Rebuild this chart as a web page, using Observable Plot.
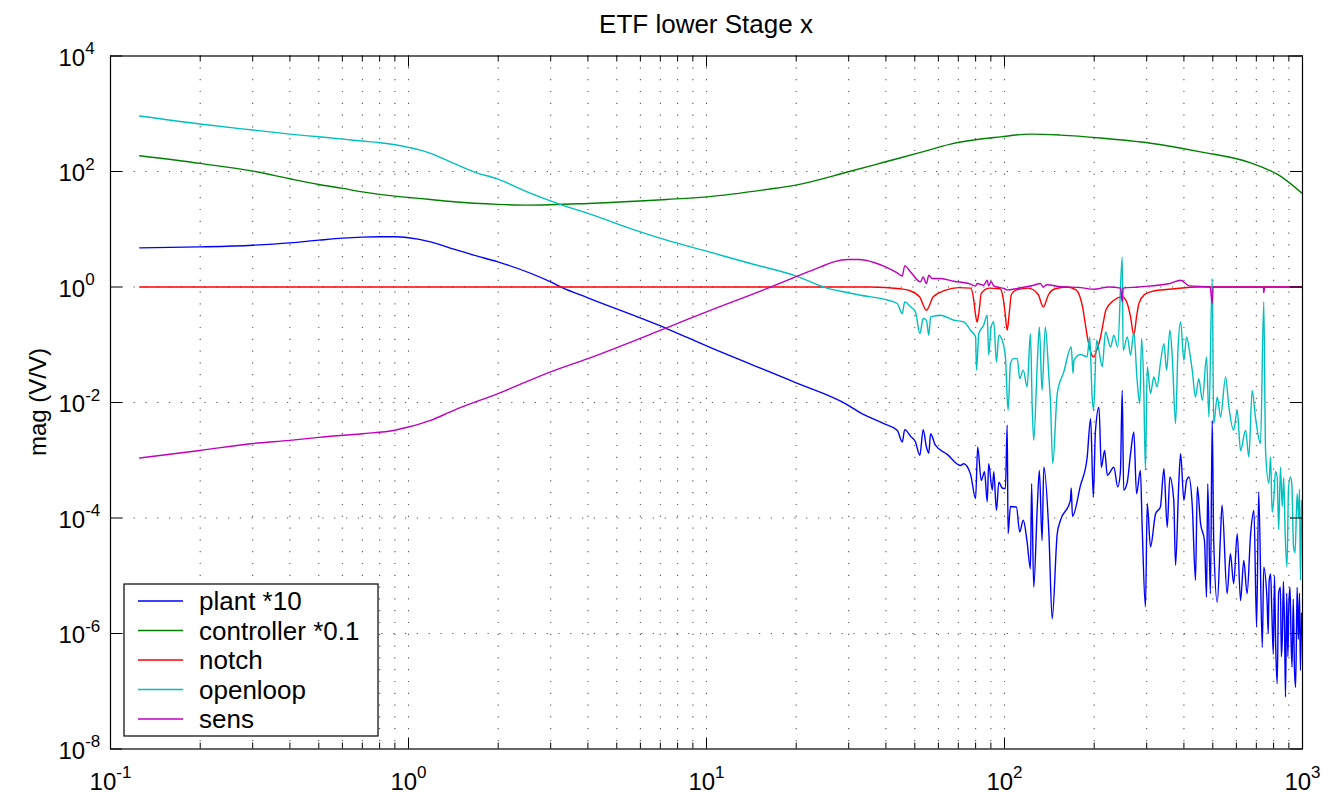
<!DOCTYPE html>
<html><head><meta charset="utf-8">
<script src="https://cdn.jsdelivr.net/npm/d3@7"></script>
<script src="https://cdn.jsdelivr.net/npm/@observablehq/plot@0.6"></script>
<style>body{margin:0;background:#fff} svg{display:block}</style>
</head><body><div id="chart"></div>
<script>
// ---------- texts ----------
const title = "ETF lower Stage x";
const yLabel = "mag (V/V)";
const seriesNames = ["plant *10", "controller *0.1", "notch", "openloop", "sens"];
const seriesColors = ["#0000ff", "#008000", "#ff0000", "#00bfbf", "#bf00bf"];
// tick exponents (labels are 10^e)
const xTickExp = [-1, 0, 1, 2, 3];
const yTickExp = [-8, -6, -4, -2, 0, 2, 4];
const minorMult = [2, 3, 4, 5, 6, 7, 8, 9];

// ---------- data: log10(frequency Hz), log10(magnitude V/V) ----------
const plantF = [-0.902,-0.700,-0.522,-0.398,-0.301,-0.220,-0.155,-0.098,-0.046,0.0,0.074,0.152,0.219,0.300,0.477,0.516,0.602,0.866,1.0,1.299,1.476,1.517,1.595,1.640,1.657,1.665,1.685,1.701,1.716,1.727,1.738,1.746,1.752,1.768,1.808,1.852,1.863,1.886,1.903,1.910,1.922,1.933,1.942,1.947,1.959,1.964,1.973,1.981,1.992,2.003,2.009,2.012,2.020,2.040,2.051,2.063,2.076,2.087,2.091,2.098,2.110,2.117,2.126,2.132,2.149,2.160,2.177,2.188,2.221,2.224,2.228,2.255,2.277,2.289,2.298,2.305,2.317,2.325,2.336,2.345,2.367,2.380,2.389,2.395,2.400,2.412,2.423,2.434,2.443,2.456,2.462,2.473,2.479,2.490,2.507,2.523,2.535,2.546,2.555,2.568,2.574,2.585,2.591,2.602,2.611,2.619,2.630,2.641,2.647,2.658,2.671,2.678,2.682,2.691,2.697,2.702,2.714,2.725,2.730,2.747,2.758,2.769,2.781,2.792,2.803,2.814,2.826,2.837,2.846,2.853,2.865,2.870,2.881,2.885,2.888,2.893,2.897,2.902,2.906,2.910,2.915,2.920,2.926,2.929,2.932,2.936,2.940,2.943,2.947,2.951,2.954,2.958,2.962,2.965,2.969,2.973,2.977,2.982,2.986,2.990,2.993,2.997];
const plantM = [0.678,0.695,0.724,0.764,0.811,0.846,0.863,0.869,0.869,0.852,0.782,0.655,0.551,0.435,0.088,-0.01,-0.188,-0.719,-1.02,-1.655,-2.048,-2.18,-2.366,-2.48,-2.684,-2.47,-2.586,-2.68,-2.915,-2.47,-2.77,-2.875,-2.54,-2.74,-2.898,-3.09,-3.06,-3.24,-3.665,-2.77,-3.35,-3.2,-3.72,-3.06,-3.52,-3.2,-3.87,-3.38,-3.48,-3.49,-2.39,-4.27,-3.8,-3.81,-4.24,-4.04,-4.42,-4.88,-3.405,-5.2,-3.81,-3.175,-4.39,-3.117,-4.27,-5.745,-4.27,-4.04,-3.7,-3.48,-3.97,-3.435,-2.97,-2.28,-3.64,-2.51,-2.08,-3.12,-2.83,-3.26,-3.12,-3.46,-3.2,-1.79,-3.52,-3.38,-2.885,-2.51,-3.58,-3.175,-4.16,-5.54,-3.75,-4.5,-3.925,-3.81,-3.145,-4.16,-3.29,-3.695,-4.82,-3.38,-2.885,-3.695,-3.35,-3.29,-3.78,-5.08,-3.46,-4.1,-4.39,-5.37,-3.405,-5.31,-2.31,-4.39,-5.46,-4.27,-3.78,-5.31,-4.62,-5.14,-4.27,-5.43,-4.735,-5.31,-4.27,-3.87,-5.89,-3.55,-6.24,-4.85,-5.43,-6.0,-5.1,-4.97,-5.6,-6.36,-5.0,-6.2,-6.87,-5.3,-5.2,-6.4,-6.12,-5.1,-6.0,-7.1,-5.3,-6.4,-5.54,-5.2,-6.2,-6.58,-5.4,-6.6,-6.93,-5.2,-6.1,-5.3,-6.64,-5.65];

const controllerF = [-0.902,-0.700,-0.522,-0.398,-0.301,-0.220,-0.155,-0.046,0.0,0.074,0.152,0.300,0.398,0.602,0.866,1.0,1.204,1.299,1.476,1.601,1.718,1.819,1.987,2.087,2.188,2.322,2.490,2.658,2.826,2.926,2.997];
const controllerM = [2.272,2.14,2.007,1.874,1.776,1.707,1.648,1.574,1.551,1.516,1.475,1.43,1.418,1.447,1.516,1.561,1.69,1.764,1.995,2.168,2.33,2.475,2.6,2.648,2.63,2.58,2.49,2.34,2.15,1.92,1.63];

const notchF = [-0.902,1.55,1.65,1.68,1.715,1.738,1.761,1.800,1.846,1.886,1.897,1.902,1.908,1.914,1.922,1.95,1.985,1.995,2.002,2.009,2.016,2.023,2.04,2.08,2.113,2.13,2.148,2.17,2.21,2.24,2.255,2.262,2.27,2.28,2.291,2.299,2.309,2.32,2.332,2.34,2.367,2.395,2.412,2.423,2.434,2.443,2.451,2.468,2.50,2.57,2.65,3.0];
const notchM = [0,0,-0.03,-0.06,-0.17,-0.402,-0.17,-0.06,-0.01,-0.02,-0.23,-0.45,-0.605,-0.45,-0.11,-0.02,-0.03,-0.18,-0.45,-0.75,-0.45,-0.13,-0.05,-0.02,-0.13,-0.344,-0.13,-0.03,0,-0.05,-0.2,-0.344,-0.6,-0.92,-1.15,-1.21,-1.1,-0.92,-0.605,-0.402,-0.23,-0.17,-0.286,-0.518,-0.835,-0.518,-0.286,-0.14,-0.07,-0.03,0,0];

const openloopF = [-0.902,-0.700,-0.522,-0.398,-0.301,-0.220,-0.155,-0.098,-0.046,0.0,0.037,0.074,0.152,0.219,0.300,0.398,0.516,0.602,0.778,0.866,1.0,1.148,1.299,1.399,1.476,1.517,1.595,1.640,1.657,1.665,1.685,1.701,1.716,1.727,1.738,1.746,1.752,1.785,1.830,1.863,1.886,1.903,1.906,1.914,1.930,1.942,1.947,1.955,1.964,1.973,1.981,1.992,2.003,2.012,2.020,2.031,2.043,2.051,2.063,2.076,2.087,2.093,2.098,2.110,2.117,2.126,2.137,2.149,2.154,2.162,2.177,2.199,2.224,2.230,2.233,2.255,2.277,2.286,2.294,2.299,2.309,2.317,2.328,2.339,2.356,2.367,2.380,2.395,2.398,2.412,2.423,2.434,2.445,2.454,2.460,2.467,2.473,2.479,2.490,2.501,2.512,2.523,2.535,2.544,2.555,2.563,2.574,2.582,2.591,2.602,2.611,2.622,2.630,2.641,2.652,2.664,2.678,2.686,2.697,2.702,2.714,2.725,2.742,2.753,2.769,2.781,2.792,2.809,2.820,2.831,2.842,2.859,2.870,2.876,2.887,2.893,2.898,2.904,2.909,2.915,2.920,2.926,2.932,2.937,2.942,2.948,2.953,2.959,2.964,2.970,2.975,2.982,2.987,2.990,2.993,2.997];
const openloopM = [2.96,2.822,2.718,2.648,2.601,2.561,2.527,2.498,2.463,2.418,2.375,2.314,2.14,1.995,1.868,1.648,1.418,1.274,0.955,0.811,0.62,0.407,0.193,-0.01,-0.1,-0.142,-0.21,-0.286,-0.46,-0.258,-0.344,-0.43,-0.806,-0.546,-0.575,-0.835,-0.518,-0.489,-0.575,-0.605,-0.749,-0.864,-1.44,-0.806,-0.662,-0.489,-1.18,-0.69,-0.605,-1.3,-0.835,-0.92,-1.21,-2.135,-1.326,-1.24,-1.24,-1.586,-1.44,-1.73,-0.806,-2.08,-2.655,-1.326,-0.69,-1.79,-0.69,-1.557,-1.96,-3.06,-1.846,-1.47,-1.04,-1.5,-1.27,-1.17,-1.21,-0.864,-1.904,-2.135,-0.92,-1.1,-1.38,-0.778,-1.04,-0.835,-1.04,0.52,-1.1,-0.864,-1.18,-0.778,-1.615,-2.02,-0.893,-1.67,-3.175,-1.38,-1.846,-1.557,-1.73,-1.326,-0.98,-1.44,-0.749,-1.21,-2.366,-1.1,-0.605,-1.27,-0.864,-1.153,-1.44,-1.904,-1.586,-1.96,-1.21,-2.25,0.147,-2.366,-1.904,-2.25,-1.557,-2.08,-2.48,-2.135,-2.83,-2.48,-2.945,-1.79,-2.25,-2.71,-0.258,-2.83,-3.4,-2.945,-3.9,-3.64,-3.2,-3.29,-4.2,-3.12,-3.8,-3.3,-4.3,-4.85,-3.5,-3.29,-3.4,-4.5,-4.6,-3.58,-4.0,-3.5,-5.08,-3.7];

const sensF = [-0.902,-0.700,-0.522,-0.398,-0.301,-0.155,-0.046,0.0,0.074,0.152,0.300,0.477,0.602,0.866,1.0,1.204,1.299,1.383,1.427,1.476,1.512,1.562,1.601,1.640,1.657,1.665,1.685,1.718,1.727,1.738,1.746,1.757,1.785,1.830,1.886,1.903,1.908,1.93,1.942,1.947,1.955,1.964,1.976,1.998,2.009,2.043,2.098,2.12,2.13,2.143,2.188,2.255,2.30,2.35,2.39,2.395,2.398,2.45,2.555,2.591,2.62,2.69,2.697,2.70,2.869,2.870,2.873,3.0];
const sensM = [-2.962,-2.83,-2.71,-2.655,-2.603,-2.54,-2.48,-2.425,-2.31,-2.135,-1.846,-1.47,-1.24,-0.707,-0.43,-0.025,0.175,0.35,0.435,0.475,0.475,0.425,0.35,0.245,0.19,0.365,0.26,0.088,0.175,0.06,0.204,0.147,0.147,0.1,0.05,0.015,0.06,0.03,0.118,0.02,0.09,0.02,0.0,-0.025,-0.05,-0.025,0.03,0.06,0.0,0.04,0.005,-0.01,-0.04,0.0,-0.02,-0.26,-0.02,0.0,0.06,0.118,0.02,0.0,-0.286,0.0,0.0,-0.1,0.0,0.0];

const seriesF = [plantF, controllerF, notchF, openloopF, sensF];
const seriesM = [plantM, controllerM, notchM, openloopM, sensM];

// ---------- layout ----------
const W = 1341, H = 800, mL = 110, mR = 39, mT = 55.5, mB = 51.5;
const frameW = W - mL - mR, frameH = H - mT - mB;
const font = "'Liberation Sans', Arial, Helvetica, sans-serif";

const rows = [];
seriesNames.forEach((name, k) => seriesF[k].forEach((lf, i) => rows.push({series: name, f: 10 ** lf, m: 10 ** seriesM[k][i]})));

const xMajor = xTickExp.map(e => 10 ** e);
const xMinor = xTickExp.slice(0, -1).flatMap(e => minorMult.map(m => m * 10 ** e));
const xGrid = [...xMajor.slice(1, -1), ...xMinor];
const yMajor = yTickExp.map(e => 10 ** e);
const yGrid = yMajor.slice(1, -1);

const gridStyle = {stroke: "#555", strokeWidth: 1.1, strokeDasharray: "1.2,10.6"};

const lineMarks = seriesNames.map(name =>
  Plot.line(rows.filter(r => r.series === name), {x: "f", y: "m", stroke: "series", strokeWidth: 1.4, curve: "monotone-x", clip: true})
);

const plot = Plot.plot({
  width: W, height: H,
  marginLeft: mL, marginRight: mR, marginTop: mT, marginBottom: mB,
  style: {fontFamily: font, background: "white", color: "black"},
  x: {type: "log", domain: [0.1, 1000], axis: null},
  y: {type: "log", domain: [1e-8, 1e4], axis: null},
  color: {domain: seriesNames, range: seriesColors},
  marks: [
    Plot.ruleX(xGrid, {x: d => d, ...gridStyle}),
    Plot.ruleY(yGrid, {y: d => d, ...gridStyle}),
    ...lineMarks,
    Plot.frame({stroke: "black", strokeWidth: 1.2}),
    Plot.tickX(xMajor, {x: d => d, insetTop: frameH - 11, stroke: "black"}),
    Plot.tickX(xMajor, {x: d => d, insetBottom: frameH - 11, stroke: "black"}),
    Plot.tickX(xMinor, {x: d => d, insetTop: frameH - 6, stroke: "black"}),
    Plot.tickX(xMinor, {x: d => d, insetBottom: frameH - 6, stroke: "black"}),
    Plot.tickY(yMajor, {y: d => d, insetRight: frameW - 12, stroke: "black"}),
    Plot.tickY(yMajor, {y: d => d, insetLeft: frameW - 12, stroke: "black"}),
    Plot.text(xTickExp, {x: e => 10 ** e, text: e => "10^" + e, frameAnchor: "bottom", lineAnchor: "bottom", textAnchor: "middle", dy: 41, fontSize: 24, fill: "black"}),
    Plot.text(yTickExp, {y: e => 10 ** e, text: e => "10^" + e, frameAnchor: "left", lineAnchor: "bottom", textAnchor: "start", dx: -52, dy: 9.6, fontSize: 24, fill: "black"})
  ]
});

document.getElementById("chart").appendChild(plot);
const svg = d3.select(plot);

// superscript exponents on tick labels
svg.selectAll("text").each(function () {
  const m = /^10\^(.+)$/.exec(this.textContent);
  if (m) {
    const el = d3.select(this);
    el.text("10");
    el.append("tspan").attr("font-size", 17).attr("dy", -11.6).text(m[1]);
  }
});

// title
svg.append("text")
  .attr("x", mL + frameW / 2).attr("y", 33)
  .attr("text-anchor", "middle").attr("font-size", 26).attr("fill", "black")
  .attr("font-family", font).text(title);

// y label
svg.append("text")
  .attr("transform", `translate(46,${mT + frameH / 2}) rotate(-90)`)
  .attr("text-anchor", "middle").attr("font-size", 24).attr("fill", "black")
  .attr("font-family", font).text(yLabel);

// legend
const lg = svg.append("g").attr("font-family", font).attr("text-anchor", "start");
lg.append("rect").attr("x", 124).attr("y", 584).attr("width", 254).attr("height", 152)
  .attr("fill", "white").attr("stroke", "black").attr("stroke-width", 1.2);
seriesNames.forEach((n, i) => {
  const y = 601 + i * 29.5;
  lg.append("line").attr("x1", 138).attr("x2", 183).attr("y1", y).attr("y2", y)
    .attr("stroke", seriesColors[i]).attr("stroke-width", 1.5);
  lg.append("text").attr("x", 199).attr("y", y + 9).attr("text-anchor", "start")
    .attr("font-size", 26).attr("fill", "black").text(n);
});
</script>
</body></html>
